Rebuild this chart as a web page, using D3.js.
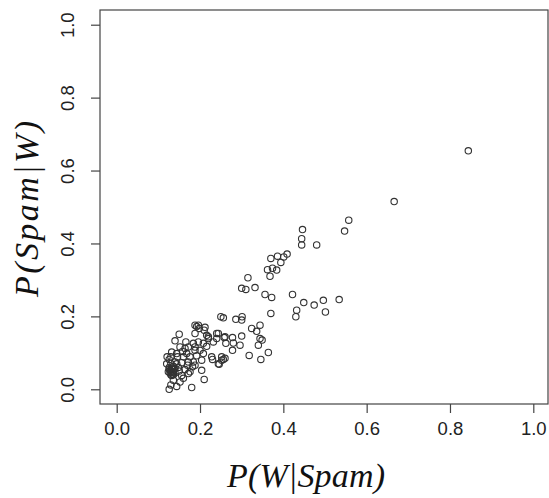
<!DOCTYPE html>
<html>
<head>
<meta charset="utf-8">
<script src="https://cdn.jsdelivr.net/npm/d3@7"></script>
<style>
  body { margin: 0; background: #fff; }
  svg { display: block; }
</style>
</head>
<body>
<div id="chart"></div>
<script>
// P(W|Spam) values
const pWGivenSpam = [
    0.844, 0.666, 0.557, 0.547, 0.446, 0.444, 0.444, 0.480, 0.409, 0.401,
    0.394, 0.386, 0.370, 0.362, 0.374, 0.384, 0.368, 0.315, 0.332, 0.300,
    0.310, 0.356, 0.372, 0.422, 0.432, 0.430, 0.449, 0.474, 0.496, 0.501,
    0.534, 0.370, 0.344, 0.336, 0.324, 0.344, 0.349, 0.364, 0.346, 0.318,
    0.250, 0.256, 0.286, 0.301, 0.300, 0.300, 0.278, 0.280, 0.278, 0.258,
    0.262, 0.256, 0.246, 0.260, 0.240, 0.240, 0.232, 0.220, 0.216, 0.210,
    0.188, 0.192, 0.196, 0.198, 0.212, 0.228, 0.230, 0.252, 0.208, 0.216,
    0.200, 0.208, 0.204, 0.210, 0.204, 0.180, 0.184, 0.188, 0.188, 0.172,
    0.168, 0.184, 0.188, 0.182, 0.176, 0.172, 0.170, 0.164, 0.160, 0.156,
    0.152, 0.150, 0.140, 0.144, 0.146, 0.140, 0.136, 0.132, 0.130, 0.126,
    0.140, 0.132, 0.136, 0.130, 0.126, 0.144, 0.152, 0.156, 0.121, 0.130,
    0.126, 0.128, 0.130, 0.132, 0.134, 0.136, 0.138, 0.130, 0.134, 0.128,
    0.136, 0.140, 0.132, 0.124, 0.126, 0.296, 0.340, 0.244, 0.252, 0.172,
    0.220, 0.244, 0.260, 0.188, 0.196, 0.166, 0.158, 0.176, 0.192, 0.148,
    0.160, 0.144, 0.120, 0.150, 0.164
];

// P(Spam|W) values, same order
const pSpamGivenW = [
    0.654, 0.515, 0.464, 0.434, 0.438, 0.413, 0.396, 0.396, 0.371, 0.363,
    0.348, 0.365, 0.359, 0.328, 0.332, 0.327, 0.310, 0.306, 0.279, 0.277,
    0.274, 0.260, 0.252, 0.260, 0.217, 0.199, 0.238, 0.231, 0.244, 0.212,
    0.246, 0.208, 0.176, 0.159, 0.167, 0.139, 0.135, 0.101, 0.082, 0.093,
    0.199, 0.196, 0.192, 0.199, 0.190, 0.146, 0.142, 0.127, 0.107, 0.142,
    0.126, 0.082, 0.069, 0.085, 0.153, 0.139, 0.130, 0.139, 0.148, 0.162,
    0.176, 0.172, 0.176, 0.167, 0.170, 0.089, 0.082, 0.089, 0.126, 0.118,
    0.107, 0.098, 0.080, 0.027, 0.052, 0.005, 0.126, 0.116, 0.107, 0.116,
    0.098, 0.075, 0.066, 0.062, 0.048, 0.075, 0.066, 0.054, 0.089, 0.073,
    0.116, 0.151, 0.133, 0.098, 0.089, 0.075, 0.063, 0.102, 0.089, 0.082,
    0.045, 0.038, 0.025, 0.012, 0.000, 0.008, 0.020, 0.038, 0.089, 0.071,
    0.060, 0.045, 0.050, 0.055, 0.042, 0.048, 0.054, 0.040, 0.058, 0.052,
    0.040, 0.058, 0.047, 0.048, 0.056, 0.121, 0.121, 0.070, 0.080, 0.043,
    0.144, 0.153, 0.144, 0.153, 0.130, 0.130, 0.104, 0.089, 0.092, 0.060,
    0.030, 0.070, 0.070, 0.050, 0.112
];

const xTicks = [0.0, 0.2, 0.4, 0.6, 0.8, 1.0];
const yTicks = [0.0, 0.2, 0.4, 0.6, 0.8, 1.0];

const width = 549, height = 498;
// plot box (R style, 4% padding around 0..1)
const box = { left: 100, right: 548, top: 10, bottom: 404 };

const svg = d3.select("#chart").append("svg")
    .attr("width", width)
    .attr("height", height);

const x = d3.scaleLinear().domain([0, 1]).range([116.7, 533.3]);
const y = d3.scaleLinear().domain([0, 1]).range([389.3, 24.7]);

// box around plot region
svg.append("rect")
    .attr("x", box.left)
    .attr("y", box.top)
    .attr("width", box.right - box.left)
    .attr("height", box.bottom - box.top)
    .attr("fill", "none")
    .attr("stroke", "#444")
    .attr("stroke-width", 1.2);

// x axis
const xAxis = svg.append("g")
    .attr("transform", `translate(0,${box.bottom})`)
    .call(d3.axisBottom(x).tickValues(xTicks).tickFormat(d3.format(".1f")).tickSize(9).tickSizeOuter(0));
xAxis.select(".domain").remove();
xAxis.selectAll(".tick line").attr("stroke", "#444").attr("stroke-width", 1.2);
xAxis.selectAll(".tick text")
    .attr("y", 18)
    .attr("dy", "0.71em")
    .style("font-family", "'Liberation Sans', Arial, sans-serif")
    .style("font-size", "18.5px")
    .attr("fill", "#222");

// y axis
const yAxis = svg.append("g")
    .attr("transform", `translate(${box.left},0)`)
    .call(d3.axisLeft(y).tickValues(yTicks).tickFormat(d3.format(".1f")).tickSize(9).tickSizeOuter(0));
yAxis.select(".domain").remove();
yAxis.selectAll(".tick line").attr("stroke", "#444").attr("stroke-width", 1.2);
yAxis.selectAll(".tick text")
    .attr("x", null)
    .attr("dy", null)
    .attr("text-anchor", "middle")
    .attr("transform", "translate(-26,0) rotate(-90)")
    .style("font-family", "'Liberation Sans', Arial, sans-serif")
    .style("font-size", "18.5px")
    .attr("fill", "#222");

// points
svg.append("g")
    .selectAll("circle")
    .data(pWGivenSpam.map((v, i) => [v, pSpamGivenW[i]]))
    .join("circle")
    .attr("cx", d => x(d[0]))
    .attr("cy", d => y(d[1]))
    .attr("r", 3.2)
    .attr("fill", "none")
    .attr("stroke", "#333")
    .attr("stroke-width", 1.1);

// axis titles
svg.append("text")
    .attr("x", 306)
    .attr("y", 487)
    .attr("text-anchor", "middle")
    .attr("textLength", 158)
    .attr("lengthAdjust", "spacing")
    .style("font-family", "'Liberation Serif', 'Times New Roman', serif")
    .style("font-style", "italic")
    .style("font-size", "34px")
    .attr("fill", "#111")
    .text("P(W|Spam)");

svg.append("text")
    .attr("transform", "translate(38,209) rotate(-90)")
    .attr("text-anchor", "middle")
    .attr("textLength", 176)
    .attr("lengthAdjust", "spacing")
    .style("font-family", "'Liberation Serif', 'Times New Roman', serif")
    .style("font-style", "italic")
    .style("font-size", "34px")
    .attr("fill", "#111")
    .text("P(Spam|W)");
</script>
</body>
</html>
